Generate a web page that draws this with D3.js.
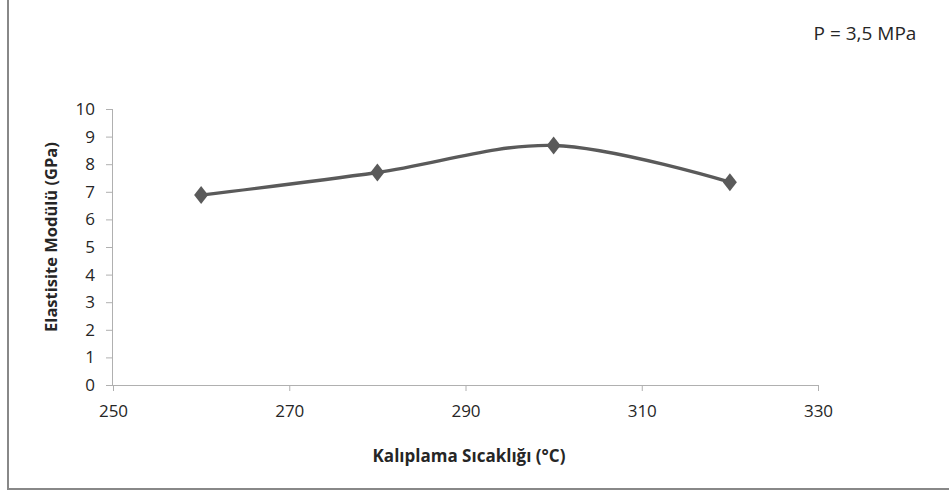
<!DOCTYPE html>
<html>
<head>
<meta charset="utf-8">
<script src="https://cdn.jsdelivr.net/npm/d3@7"></script>
<style>
  html, body { margin: 0; padding: 0; background: #fff; }
  svg { display: block; }
  text { font-family: "Open Sans", "Noto Sans", sans-serif; fill: #262626; }
</style>
</head>
<body>
<svg id="chart" width="949" height="492"></svg>
<script>
// Molding temperature (°C) vs. elastic modulus (GPa)
const temperatures = [260, 280, 300, 320];
const modulus = [6.88, 7.7, 8.68, 7.35];
const xTicks = [250, 270, 290, 310, 330];
const yTicks = [0, 1, 2, 3, 4, 5, 6, 7, 8, 9, 10];
const xTitle = "Kalıplama Sıcaklığı (°C)";
const yTitle = "Elastisite Modülü (GPa)";
const note = "P = 3,5 MPa";

const svg = d3.select("#chart");
const W = 949, H = 492;

// frame (left and bottom edges only)
svg.append("path")
  .attr("d", `M8,0 V489 H${W}`)
  .attr("fill", "none")
  .attr("stroke", "#888")
  .attr("stroke-width", 2);

const x = d3.scaleLinear().domain([250, 330]).range([113, 818]);
const y = d3.scaleLinear().domain([0, 10]).range([385, 109]);

const axisColor = "#b0b0b0";

// y axis
const gy = svg.append("g")
  .attr("transform", `translate(${x(250)},0)`)
  .call(d3.axisLeft(y).tickValues(yTicks).tickSize(7).tickPadding(11).tickFormat(d3.format("d")));
gy.attr("font-size", 17);
gy.select(".domain").attr("stroke", axisColor).attr("d", `M-0.5,${y(0)}V${y(10)}`);
gy.selectAll(".tick line").attr("stroke", axisColor);
gy.selectAll(".tick text").attr("font-size", 17).style("font-family", "'Open Sans', sans-serif").attr("fill", "#262626");

// x axis
const gx = svg.append("g")
  .attr("transform", `translate(0,${y(0)})`)
  .call(d3.axisBottom(x).tickValues(xTicks).tickSize(6).tickPadding(14).tickFormat(d3.format("d")));
gx.attr("font-size", 17);
gx.select(".domain").attr("stroke", axisColor).attr("d", `M${x(250)},0.5H${x(330)}`);
gx.selectAll(".tick line").attr("stroke", axisColor);
gx.selectAll(".tick text").attr("font-size", 17).style("font-family", "'Open Sans', sans-serif").attr("fill", "#262626");

// smoothed series line
const pts = temperatures.map((t, i) => [t, modulus[i]]);
const line = d3.line()
  .x(d => x(d[0]))
  .y(d => y(d[1]))
  .curve(d3.curveCatmullRom.alpha(0.5));

svg.append("path")
  .datum(pts)
  .attr("d", line)
  .attr("fill", "none")
  .attr("stroke", "#5a5a5a")
  .attr("stroke-width", 3.4);

// diamond markers
svg.selectAll("path.marker")
  .data(pts)
  .enter().append("path")
  .attr("class", "marker")
  .attr("d", "M0,-9L7,0L0,9L-7,0Z")
  .attr("transform", d => `translate(${x(d[0])},${y(d[1])})`)
  .attr("fill", "#5a5a5a");

// axis titles
svg.append("text")
  .attr("x", 469).attr("y", 462)
  .attr("text-anchor", "middle")
  .attr("font-size", 17).attr("font-weight", "bold")
  .text(xTitle);

svg.append("text")
  .attr("transform", `translate(57,237) rotate(-90)`)
  .attr("text-anchor", "middle")
  .attr("font-size", 16.5).attr("font-weight", "bold")
  .text(yTitle);

// annotation
svg.append("text")
  .attr("x", 865).attr("y", 40)
  .attr("text-anchor", "middle")
  .attr("font-size", 19)
  .text(note);
</script>
</body>
</html>
